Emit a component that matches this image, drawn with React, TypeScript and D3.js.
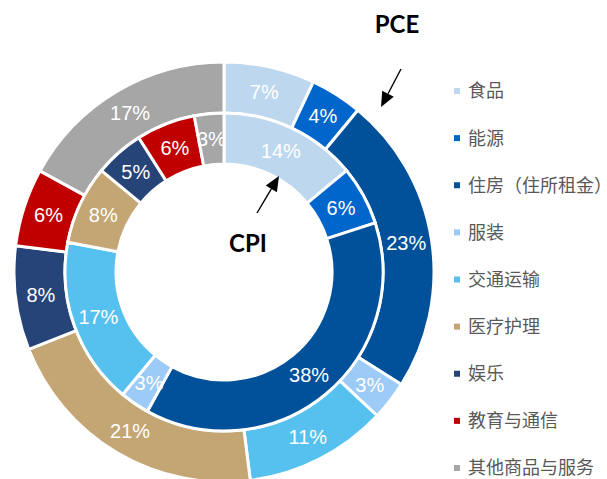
import React, { useRef, useEffect } from 'react';
import * as d3 from 'd3';

const categories = ['食品', '能源', '住房（住所租金）', '服装', '交通运输', '医疗护理', '娱乐', '教育与通信', '其他商品与服务'];
const pceValues = [7, 4, 23, 3, 11, 21, 8, 6, 17];
const cpiValues = [14, 6, 38, 3, 17, 8, 5, 6, 3];
const colors = ['#BDD7EE', '#0066CC', '#00509A', '#9DCBF7', '#56C1EE', '#C3A674', '#264478', '#C00000', '#A6A6A6'];

const W = 607;
const H = 479;

const App = () => {
  const svgRef = useRef<SVGSVGElement>(null);

  useEffect(() => {
    const svg = d3.select(svgRef.current);
    svg.selectAll('*').remove();

    const cx = 224;
    const cy = 272;

    const g = svg.append('g').attr('transform', `translate(${cx},${cy})`);

    const pie = d3.pie<number>().sort(null).value(d => d);

    const rings = [
      { values: pceValues, outer: 210, inner: 159 },
      { values: cpiValues, outer: 159, inner: 108 }
    ];

    rings.forEach(ring => {
      const arc = d3.arc<d3.PieArcDatum<number>>()
        .innerRadius(ring.inner)
        .outerRadius(ring.outer);
      const arcs = pie(ring.values);

      g.append('g')
        .selectAll('path')
        .data(arcs)
        .enter()
        .append('path')
        .attr('d', arc)
        .attr('fill', (d, i) => colors[i])
        .attr('stroke', '#fff')
        .attr('stroke-width', 3)
        .attr('stroke-linejoin', 'miter');

      g.append('g')
        .selectAll('text')
        .data(arcs)
        .enter()
        .append('text')
        .attr('transform', d => `translate(${arc.centroid(d)})`)
        .attr('text-anchor', 'middle')
        .attr('dy', '0.36em')
        .style('font-family', '"Liberation Sans", Arial, sans-serif')
        .style('font-size', '20px')
        .style('fill', '#fff')
        .text(d => `${d.data}%`);
    });

    // arrow with filled head
    const arrow = (x1: number, y1: number, x2: number, y2: number) => {
      const ang = Math.atan2(y2 - y1, x2 - x1);
      const len = 15;
      const half = 6.5;
      const bx = x2 - len * Math.cos(ang);
      const by = y2 - len * Math.sin(ang);
      svg.append('line')
        .attr('x1', x1).attr('y1', y1)
        .attr('x2', bx).attr('y2', by)
        .attr('stroke', '#000')
        .attr('stroke-width', 1.4);
      const pts = [
        [x2, y2],
        [bx + half * Math.sin(ang), by - half * Math.cos(ang)],
        [bx - half * Math.sin(ang), by + half * Math.cos(ang)]
      ];
      svg.append('path')
        .attr('d', 'M' + pts.map(p => p.join(',')).join('L') + 'Z')
        .attr('fill', '#000');
    };

    // Series labels and arrows
    svg.append('text')
      .attr('x', 397)
      .attr('y', 33)
      .attr('text-anchor', 'middle')
      .style('font-family', 'Lato, "Open Sans", sans-serif')
      .style('font-weight', 'bold')
      .style('font-size', '24px')
      .style('fill', '#000')
      .text('PCE');
    arrow(401, 69, 381, 107);

    svg.append('text')
      .attr('x', 248)
      .attr('y', 252)
      .attr('text-anchor', 'middle')
      .style('font-family', 'Lato, "Open Sans", sans-serif')
      .style('font-weight', 'bold')
      .style('font-size', '24px')
      .style('fill', '#000')
      .text('CPI');
    arrow(257, 213, 279, 176);

    // Legend
    const legend = svg.append('g');
    const rowY = d3.scalePoint<string>().domain(categories).range([91, 468]);

    const items = legend.selectAll('g')
      .data(categories)
      .enter()
      .append('g')
      .attr('transform', d => `translate(454,${rowY(d)})`);

    items.append('rect')
      .attr('x', 0)
      .attr('y', -3)
      .attr('width', 6)
      .attr('height', 6)
      .attr('fill', (d, i) => colors[i]);

    items.append('text')
      .attr('x', 14)
      .attr('dy', '0.36em')
      .style('font-family', '"Noto Sans CJK SC", sans-serif')
      .style('font-size', '18px')
      .style('fill', '#595959')
      .text(d => d);
  }, []);

  return (
    <svg
      ref={svgRef}
      width={W}
      height={H}
      style={{ position: 'absolute', left: 0, top: 0, background: '#fff' }}
    />
  );
};

export default App;
